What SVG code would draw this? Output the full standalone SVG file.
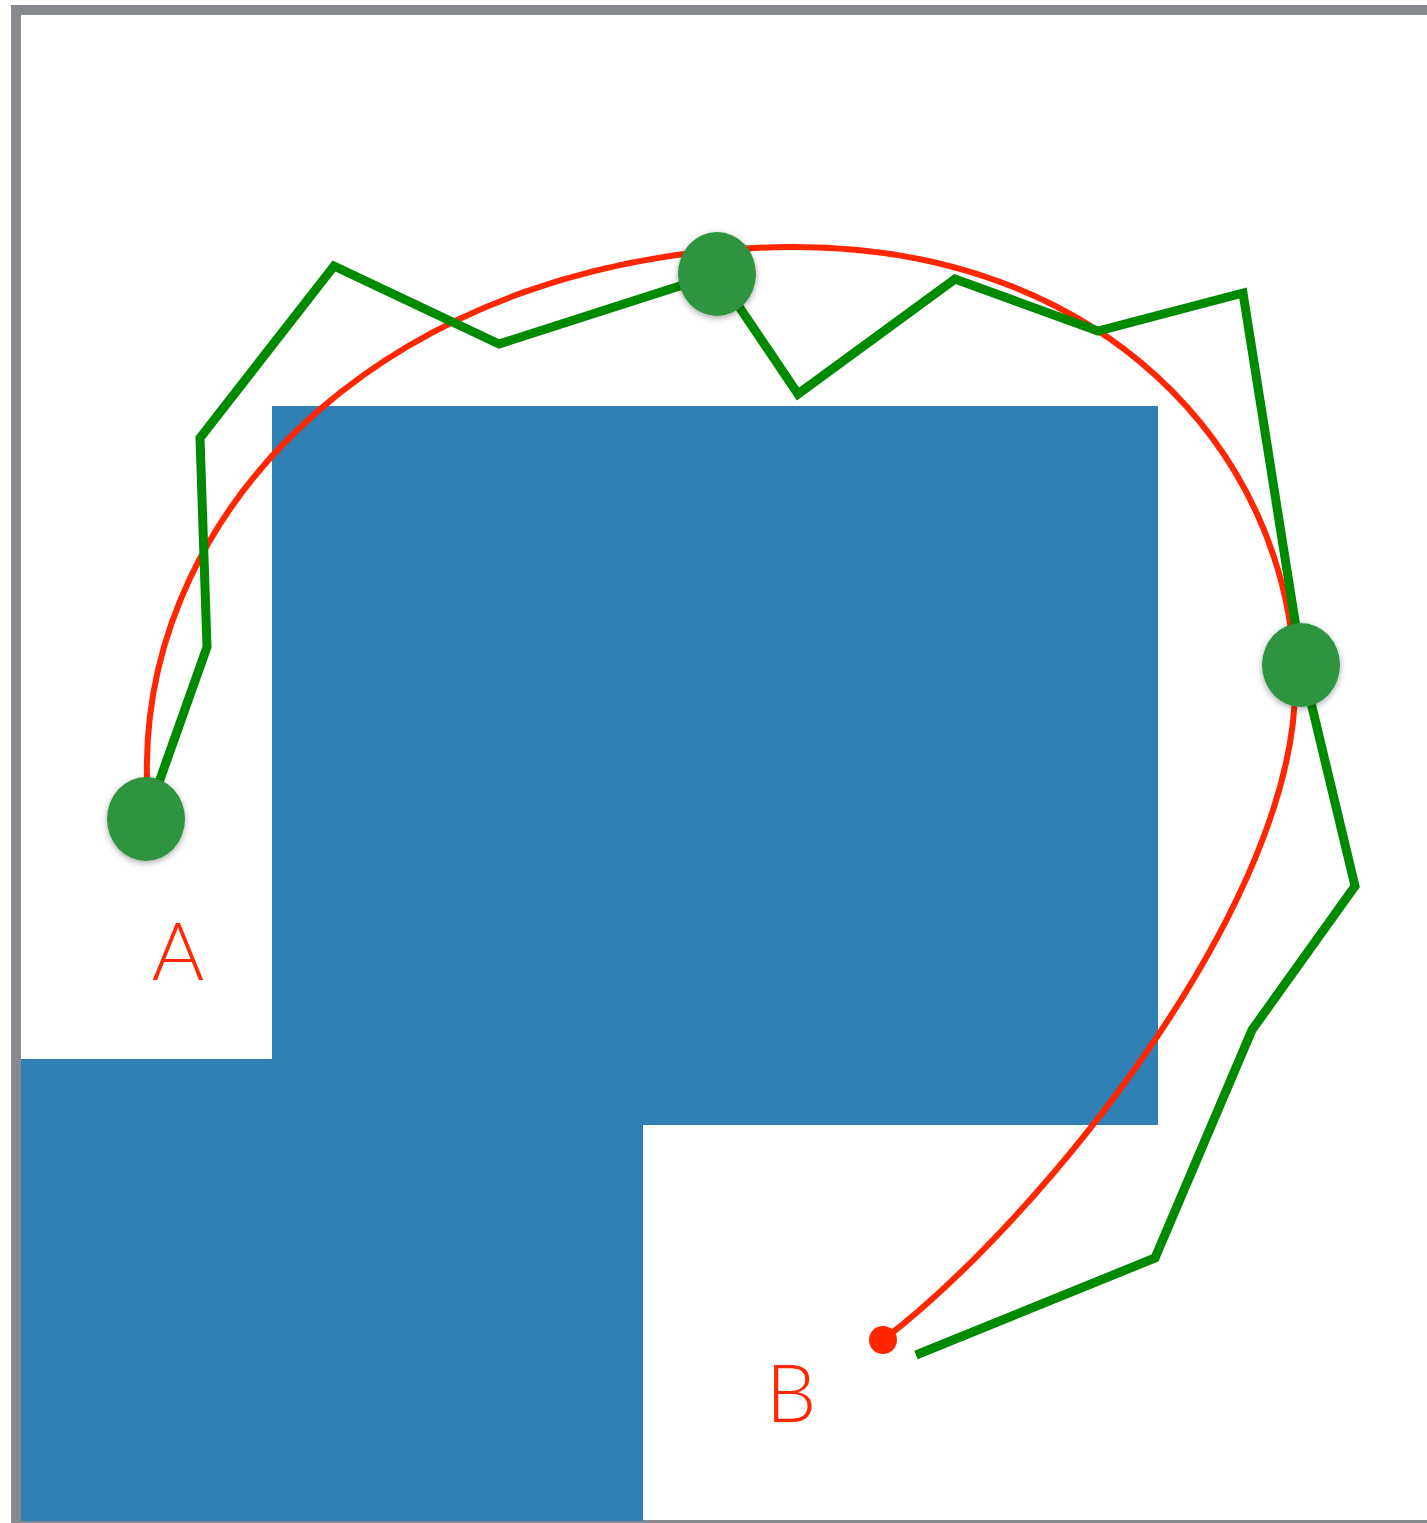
<svg xmlns="http://www.w3.org/2000/svg" width="1427" height="1523" viewBox="0 0 1427 1523">
<style>
.frame{fill:#86898d}
.blue{fill:#2f80b4}
.red{fill:none;stroke:#ff2600;stroke-width:6}
.green{fill:none;stroke:#008a00;stroke-width:9;stroke-linejoin:miter}
.node{fill:#2f9441;filter:url(#sh)}
.lbl{font-family:Lato,"Open Sans","Liberation Sans",sans-serif;font-weight:300;font-size:80px;fill:#ff2600;text-anchor:middle}
</style>
<defs>
<filter id="sh" x="-30%" y="-30%" width="160%" height="160%">
<feDropShadow dx="0" dy="2" stdDeviation="3" flood-color="#000" flood-opacity="0.35"/>
</filter>
</defs>
<rect width="1427" height="1523" fill="#fff"/>
<g id="frame">
<rect class="frame" x="11" y="5" width="1416" height="10"/>
<rect class="frame" x="11" y="5" width="10" height="1518"/>
<rect class="frame" x="11" y="1520" width="1416" height="3"/>
</g>
<g id="obstacles">
<rect class="blue" x="272" y="406" width="886" height="719"/>
<rect class="blue" x="21" y="1059" width="622" height="462"/>
</g>
<g id="connectors">
<path class="red" d="M147,780 C140,500 400,250 790,247 C1100,245 1290,450 1295,680 C1300,900 1040,1220 883,1340"/>
<polyline class="green" points="146,819 207,647 200,438 334,266 499,344 717,274 798,394 955,279 1098,331 1243,293 1302,665 1355,886 1252,1030 1155,1258 916,1355"/>
</g>
<g id="nodeA"><ellipse class="node" cx="146" cy="819" rx="39" ry="42"/></g>
<g id="nodeTop"><ellipse class="node" cx="717" cy="274" rx="39" ry="42"/></g>
<g id="nodeRight"><ellipse class="node" cx="1301" cy="665" rx="39" ry="42"/></g>
<g id="nodeB"><circle cx="883" cy="1340" r="14" fill="#ff2600"/></g>
<g id="labels">
<text class="lbl" x="178" y="980">A</text>
<text class="lbl" x="791" y="1422">B</text>
</g>
</svg>
